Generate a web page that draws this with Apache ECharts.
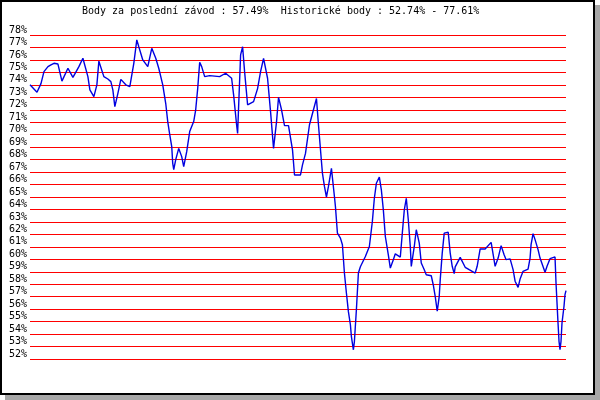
<!DOCTYPE html>
<html>
<head>
    <meta charset="utf-8" />
    <title>Body</title>
    <script src="https://cdn.jsdelivr.net/npm/echarts@6/dist/echarts.min.js"></script>
    <style>
        html, body { margin: 0; padding: 0; background: #fff; }
        #chart { width: 600px; height: 400px; }
    </style>
</head>
<body>
<div id="chart"></div>
<script>
    // days since the first race
    var days = [0, 7, 11, 14, 18, 21, 24, 28, 32, 38, 43, 49, 53, 58, 60, 64, 67, 69, 74, 78,
        81, 83, 85, 88, 91, 96, 100, 102, 104, 107, 109, 113, 118, 122, 126, 129, 133, 136, 138, 140,
        142, 143, 144, 146, 149, 152, 154, 157, 160, 164, 166, 168, 170, 172, 175, 180, 190, 196, 202, 204,
        207, 208, 209, 211, 213, 215, 218, 224, 228, 231, 234, 238, 241, 244, 247, 249, 252, 255, 259, 263,
        265, 271, 273, 276, 280, 287, 289, 292, 293, 295, 297, 299, 302, 305, 306, 308, 311, 313, 315, 317,
        319, 321, 322, 324, 325, 327, 329, 331, 336, 340, 342, 343, 345, 347, 350, 352, 354, 356, 359, 361,
        364, 366, 371, 373, 375, 377, 379, 381, 382, 385, 387, 390, 392, 395, 397, 402, 404, 406, 408, 410,
        411, 413, 415, 419, 421, 423, 425, 426, 431, 436, 440, 446, 448, 451, 456, 462, 466, 469, 472, 475,
        477, 481, 484, 486, 489, 491, 494, 499, 501, 502, 504, 506, 509, 511, 516, 518, 521, 526, 527, 528,
        529, 530, 531, 532, 533, 535, 536, 537];

    // points in %
    var points = [74.0, 73.4, 74.1, 75.06, 75.46, 75.6, 75.73, 75.67, 74.3, 75.33, 74.6, 75.46, 76.13, 74.66, 73.6, 73.05, 74.0, 75.9, 74.66, 74.47,
        74.26, 73.6, 72.25, 73.3, 74.44, 74.0, 73.86, 74.0, 75.73, 77.61, 77.06, 76.0, 75.46, 76.93, 76.13, 75.33, 74.0, 72.5, 71.05, 70.0,
        69.04, 67.7, 67.2, 68.0, 68.9, 68.24, 67.44, 68.64, 70.25, 71.05, 72.0, 73.7, 75.8, 75.46, 74.66, 74.74, 74.66, 74.93, 74.53, 73.2,
        70.78, 70.1, 72.25, 76.4, 77.06, 75.06, 72.4, 72.65, 73.7, 75.06, 76.13, 74.53, 71.85, 68.9, 71.05, 73.0, 72.0, 70.73, 70.73, 68.78,
        66.77, 66.77, 67.58, 68.5, 70.8, 72.9, 70.8, 67.85, 66.9, 65.85, 65.0, 65.85, 67.3, 65.04, 64.24, 62.1, 61.7, 61.17, 58.9, 57.3,
        55.8, 54.75, 53.8, 52.74, 53.4, 55.95, 58.9, 59.4, 60.23, 61.03, 62.37, 63.04, 64.9, 66.1, 66.6, 65.58, 63.97, 61.83, 60.36, 59.3,
        59.96, 60.44, 60.18, 62.1, 63.97, 64.9, 63.17, 61.03, 59.43, 61.03, 62.37, 61.3, 59.7, 59.16, 58.76, 58.68, 57.96, 57.0, 55.83, 57.03,
        58.37, 60.5, 62.1, 62.17, 60.5, 59.44, 58.85, 59.39, 60.16, 59.36, 59.17, 58.9, 59.44, 60.83, 60.83, 61.36, 59.44, 60.1, 61.1, 60.37,
        59.97, 60.03, 59.17, 58.24, 57.75, 58.42, 59.04, 59.22, 60.1, 61.18, 62.06, 61.58, 60.78, 60.1, 58.96, 59.44, 60.05, 60.19, 58.1, 56.5,
        54.9, 53.42, 52.75, 53.42, 54.9, 56.23, 57.17, 57.49];

    var yMin = 52, yMax = 78, yStep = 1;
    var titleText = 'Body za poslední závod : 57.49%  Historické body : 52.74% - 77.61%';

    var seriesData = [];
    for (var i = 0; i < days.length; i++) {
        seriesData.push([days[i], points[i]]);
    }

    var mychart = echarts.init(document.getElementById('chart'));
    var option = {
        animation: false,
        backgroundColor: '#fff',
        textStyle: { fontFamily: 'DejaVu Sans Mono' },
        graphic: [
            // shadow + frame
            { type: 'rect', z: -10, shape: { x: 5, y: 5, width: 595, height: 395 }, style: { fill: '#a8a8a8' } },
            { type: 'rect', z: -9, shape: { x: 1, y: 1, width: 593, height: 393 }, style: { fill: '#fff', stroke: '#000', lineWidth: 2 } }
        ],
        title: {
            text: titleText,
            left: 82,
            top: 6,
            padding: 0,
            textStyle: { fontFamily: 'DejaVu Sans Mono', fontSize: 10, fontWeight: 'normal', color: '#000' }
        },
        grid: { left: 30, right: 34, top: 35, bottom: 41 },
        xAxis: {
            type: 'value',
            min: 0,
            max: days[days.length - 1],
            show: false
        },
        yAxis: {
            type: 'value',
            min: yMin,
            max: yMax,
            interval: yStep,
            axisLine: { show: false },
            axisTick: { show: false },
            axisLabel: {
                formatter: '{value}%',
                margin: 3,
                verticalAlign: 'bottom',
                fontFamily: 'DejaVu Sans Mono',
                fontSize: 10,
                color: '#000'
            },
            splitLine: { show: true, lineStyle: { color: '#ff0000', width: 1, type: 'solid' } }
        },
        series: [{
            type: 'line',
            data: seriesData,
            showSymbol: false,
            lineStyle: { color: '#0000e0', width: 1.4 }
        }]
    };
    mychart.setOption(option);
</script>
</body>
</html>
